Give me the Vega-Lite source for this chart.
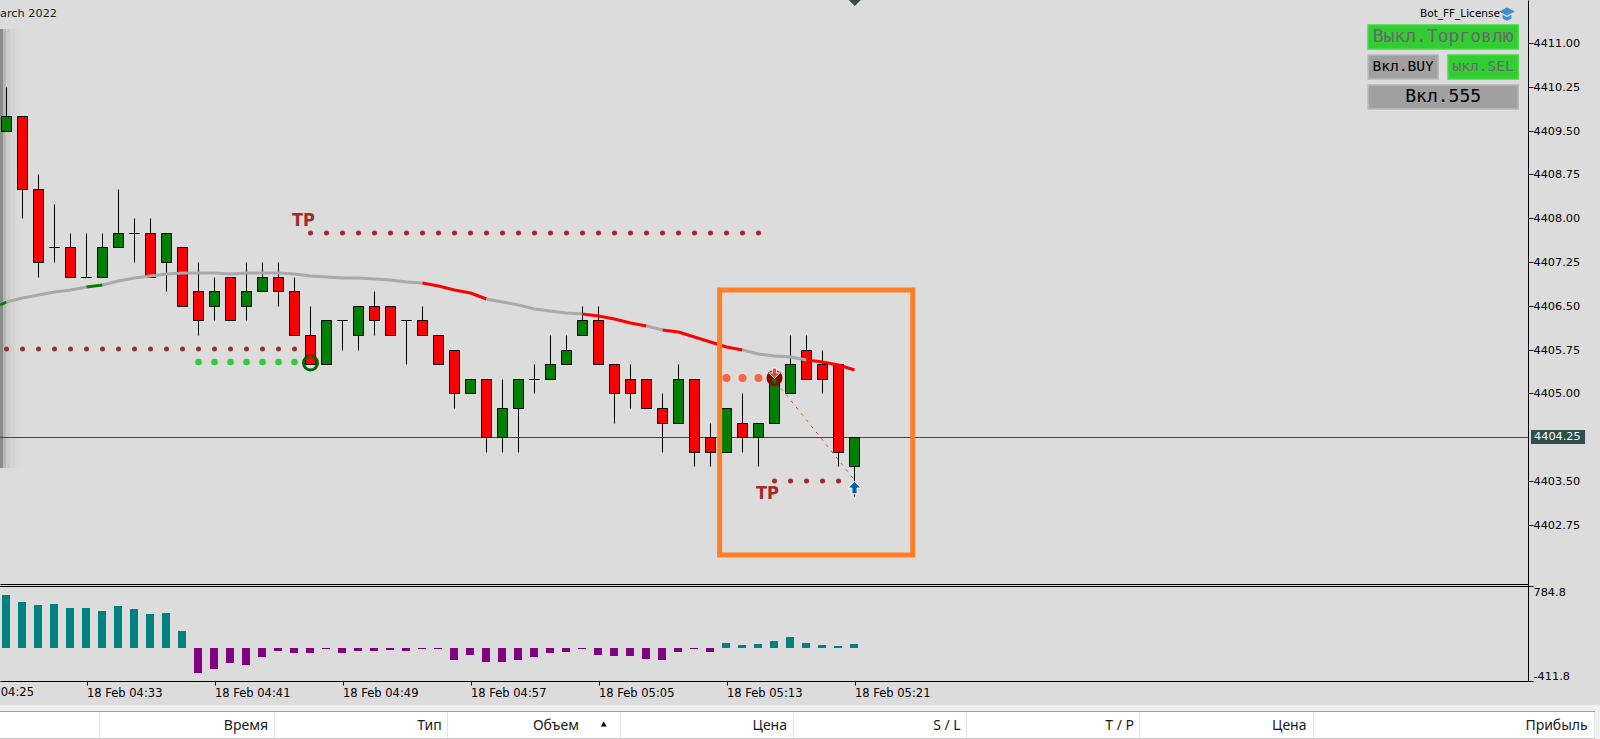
{"$schema":"https://vega.github.io/schema/vega-lite/v6.json","background":"#dcdcdc","padding":0,"autosize":{"type":"pad"},"bounds":"flush","spacing":0,
"resolve":{"scale":{"color":"independent","fill":"independent","stroke":"independent","size":"independent"}},
"config":{"view":{"stroke":null},"axis":{"grid":false,"title":null,"domainColor":"#000000","tickColor":"#000000","labelColor":"#000000","labelFont":"DejaVu Sans","labelFontSize":11.3,"domainWidth":1,"tickWidth":1}},
"datasets":{
"candles":[
{"i":0,"o":4409.5,"h":4410.25,"l":4409.5,"c":4409.75,"dir":"up"},{"i":1,"o":4409.75,"h":4409.75,"l":4408,"c":4408.5,"dir":"down"},{"i":2,"o":4408.5,"h":4408.75,"l":4407,"c":4407.25,"dir":"down"},{"i":3,"o":4407.5,"h":4408.25,"l":4407.25,"c":4407.5,"dir":"down"},{"i":4,"o":4407.5,"h":4407.75,"l":4407,"c":4407,"dir":"down"},{"i":5,"o":4407,"h":4407.75,"l":4407,"c":4407,"dir":"down"},{"i":6,"o":4407,"h":4407.75,"l":4407,"c":4407.5,"dir":"up"},{"i":7,"o":4407.5,"h":4408.5,"l":4407.5,"c":4407.75,"dir":"up"},{"i":8,"o":4407.75,"h":4408,"l":4407.25,"c":4407.75,"dir":"down"},{"i":9,"o":4407.75,"h":4408,"l":4407,"c":4407,"dir":"down"},
{"i":10,"o":4407.25,"h":4407.75,"l":4406.75,"c":4407.75,"dir":"up"},{"i":11,"o":4407.5,"h":4407.5,"l":4406.5,"c":4406.5,"dir":"down"},{"i":12,"o":4406.75,"h":4407.25,"l":4406,"c":4406.25,"dir":"down"},{"i":13,"o":4406.5,"h":4407,"l":4406.25,"c":4406.75,"dir":"up"},{"i":14,"o":4407,"h":4407,"l":4406.25,"c":4406.25,"dir":"down"},{"i":15,"o":4406.5,"h":4407.25,"l":4406.25,"c":4406.75,"dir":"up"},{"i":16,"o":4406.75,"h":4407.25,"l":4406.75,"c":4407,"dir":"up"},{"i":17,"o":4407,"h":4407.25,"l":4406.5,"c":4406.75,"dir":"down"},{"i":18,"o":4406.75,"h":4407,"l":4406,"c":4406,"dir":"down"},{"i":19,"o":4406,"h":4406.5,"l":4405.5,"c":4405.5,"dir":"down"},
{"i":20,"o":4405.5,"h":4406.25,"l":4405.5,"c":4406.25,"dir":"up"},{"i":21,"o":4406.25,"h":4406.25,"l":4405.75,"c":4406.25,"dir":"down"},{"i":22,"o":4406,"h":4406.5,"l":4405.75,"c":4406.5,"dir":"up"},{"i":23,"o":4406.5,"h":4406.75,"l":4406,"c":4406.25,"dir":"down"},{"i":24,"o":4406.5,"h":4406.5,"l":4406,"c":4406,"dir":"down"},{"i":25,"o":4406.25,"h":4406.25,"l":4405.5,"c":4406.25,"dir":"down"},{"i":26,"o":4406.25,"h":4406.5,"l":4406,"c":4406,"dir":"down"},{"i":27,"o":4406,"h":4406,"l":4405.5,"c":4405.5,"dir":"down"},{"i":28,"o":4405.75,"h":4405.75,"l":4404.75,"c":4405,"dir":"down"},{"i":29,"o":4405,"h":4405.25,"l":4405,"c":4405.25,"dir":"up"},
{"i":30,"o":4405.25,"h":4405.25,"l":4404,"c":4404.25,"dir":"down"},{"i":31,"o":4404.25,"h":4405.25,"l":4404,"c":4404.75,"dir":"up"},{"i":32,"o":4404.75,"h":4405.25,"l":4404,"c":4405.25,"dir":"up"},{"i":33,"o":4405.25,"h":4405.5,"l":4405,"c":4405.25,"dir":"down"},{"i":34,"o":4405.25,"h":4406,"l":4405.25,"c":4405.5,"dir":"up"},{"i":35,"o":4405.5,"h":4406,"l":4405.5,"c":4405.75,"dir":"up"},{"i":36,"o":4406,"h":4406.5,"l":4406,"c":4406.25,"dir":"up"},{"i":37,"o":4406.25,"h":4406.5,"l":4405.5,"c":4405.5,"dir":"down"},{"i":38,"o":4405.5,"h":4405.5,"l":4404.5,"c":4405,"dir":"down"},{"i":39,"o":4405.25,"h":4405.5,"l":4404.75,"c":4405,"dir":"down"},
{"i":40,"o":4405.25,"h":4405.25,"l":4404.75,"c":4404.75,"dir":"down"},{"i":41,"o":4404.75,"h":4405,"l":4404,"c":4404.5,"dir":"down"},{"i":42,"o":4404.5,"h":4405.5,"l":4404.5,"c":4405.25,"dir":"up"},{"i":43,"o":4405.25,"h":4405.25,"l":4403.75,"c":4404,"dir":"down"},{"i":44,"o":4404.25,"h":4404.5,"l":4403.75,"c":4404,"dir":"down"},{"i":45,"o":4404,"h":4404.75,"l":4404,"c":4404.75,"dir":"up"},{"i":46,"o":4404.5,"h":4405,"l":4404,"c":4404.25,"dir":"down"},{"i":47,"o":4404.25,"h":4404.5,"l":4403.75,"c":4404.5,"dir":"up"},{"i":48,"o":4404.5,"h":4405.25,"l":4404.5,"c":4405.25,"dir":"up"},{"i":49,"o":4405,"h":4406,"l":4405,"c":4405.5,"dir":"up"},
{"i":50,"o":4405.75,"h":4406,"l":4405.25,"c":4405.25,"dir":"down"},{"i":51,"o":4405.5,"h":4405.75,"l":4405,"c":4405.25,"dir":"down"},{"i":52,"o":4405.5,"h":4405.5,"l":4403.75,"c":4404,"dir":"down"},{"i":53,"o":4403.75,"h":4404.25,"l":4403.25,"c":4404.25,"dir":"up"}],
"ma":[
{"i":-0.4,"p":4406.52,"s":"a","col":"green"},{"i":0,"p":4406.562,"s":"a","col":"green"},
{"i":0,"p":4406.562,"s":"b","col":"gray"},{"i":1,"p":4406.634,"s":"b","col":"gray"},{"i":2,"p":4406.685,"s":"b","col":"gray"},{"i":3,"p":4406.729,"s":"b","col":"gray"},{"i":4,"p":4406.771,"s":"b","col":"gray"},{"i":5,"p":4406.822,"s":"b","col":"gray"},
{"i":5,"p":4406.822,"s":"c","col":"green"},{"i":6,"p":4406.856,"s":"c","col":"green"},
{"i":6,"p":4406.856,"s":"d","col":"gray"},{"i":7,"p":4406.918,"s":"d","col":"gray"},{"i":8,"p":4406.976,"s":"d","col":"gray"},{"i":9,"p":4407.01,"s":"d","col":"gray"},{"i":10,"p":4407.045,"s":"d","col":"gray"},{"i":11,"p":4407.062,"s":"d","col":"gray"},{"i":12,"p":4407.062,"s":"d","col":"gray"},{"i":13,"p":4407.062,"s":"d","col":"gray"},{"i":14,"p":4407.05,"s":"d","col":"gray"},{"i":15,"p":4407.062,"s":"d","col":"gray"},{"i":16,"p":4407.062,"s":"d","col":"gray"},{"i":17,"p":4407.062,"s":"d","col":"gray"},{"i":18,"p":4407.045,"s":"d","col":"gray"},{"i":19,"p":4407.01,"s":"d","col":"gray"},{"i":20,"p":4406.993,"s":"d","col":"gray"},{"i":21,"p":4406.969,"s":"d","col":"gray"},{"i":22,"p":4406.969,"s":"d","col":"gray"},{"i":23,"p":4406.959,"s":"d","col":"gray"},{"i":24,"p":4406.935,"s":"d","col":"gray"},{"i":25,"p":4406.901,"s":"d","col":"gray"},{"i":26,"p":4406.884,"s":"d","col":"gray"},
{"i":26,"p":4406.884,"s":"e","col":"red"},{"i":27,"p":4406.832,"s":"e","col":"red"},{"i":28,"p":4406.764,"s":"e","col":"red"},{"i":29,"p":4406.724,"s":"e","col":"red"},{"i":30,"p":4406.622,"s":"e","col":"red"},
{"i":30,"p":4406.622,"s":"f","col":"gray"},{"i":31,"p":4406.558,"s":"f","col":"gray"},{"i":32,"p":4406.514,"s":"f","col":"gray"},{"i":33,"p":4406.45,"s":"f","col":"gray"},{"i":34,"p":4406.411,"s":"f","col":"gray"},{"i":35,"p":4406.382,"s":"f","col":"gray"},{"i":36,"p":4406.365,"s":"f","col":"gray"},
{"i":36,"p":4406.365,"s":"g","col":"red"},{"i":37,"p":4406.325,"s":"g","col":"red"},{"i":38,"p":4406.267,"s":"g","col":"red"},{"i":39,"p":4406.205,"s":"g","col":"red"},{"i":40,"p":4406.147,"s":"g","col":"red"},
{"i":40,"p":4406.147,"s":"h","col":"gray"},{"i":41,"p":4406.079,"s":"h","col":"gray"},
{"i":41,"p":4406.079,"s":"j","col":"red"},{"i":42,"p":4406.045,"s":"j","col":"red"},{"i":43,"p":4405.966,"s":"j","col":"red"},{"i":44,"p":4405.873,"s":"j","col":"red"},{"i":45,"p":4405.795,"s":"j","col":"red"},{"i":46,"p":4405.748,"s":"j","col":"red"},
{"i":46,"p":4405.748,"s":"k","col":"gray"},{"i":47,"p":4405.68,"s":"k","col":"gray"},{"i":48,"p":4405.646,"s":"k","col":"gray"},{"i":49,"p":4405.623,"s":"k","col":"gray"},{"i":50,"p":4405.572,"s":"k","col":"gray"},
{"i":50,"p":4405.572,"s":"m","col":"red"},{"i":51,"p":4405.543,"s":"m","col":"red"},{"i":52,"p":4405.486,"s":"m","col":"red"},{"i":53,"p":4405.401,"s":"m","col":"red"}],
"dots":[
{"i":19,"p":4407.75,"k":"tp"},{"i":20,"p":4407.75,"k":"tp"},{"i":21,"p":4407.75,"k":"tp"},{"i":22,"p":4407.75,"k":"tp"},{"i":23,"p":4407.75,"k":"tp"},{"i":24,"p":4407.75,"k":"tp"},{"i":25,"p":4407.75,"k":"tp"},{"i":26,"p":4407.75,"k":"tp"},{"i":27,"p":4407.75,"k":"tp"},{"i":28,"p":4407.75,"k":"tp"},{"i":29,"p":4407.75,"k":"tp"},{"i":30,"p":4407.75,"k":"tp"},{"i":31,"p":4407.75,"k":"tp"},{"i":32,"p":4407.75,"k":"tp"},{"i":33,"p":4407.75,"k":"tp"},{"i":34,"p":4407.75,"k":"tp"},{"i":35,"p":4407.75,"k":"tp"},{"i":36,"p":4407.75,"k":"tp"},{"i":37,"p":4407.75,"k":"tp"},{"i":38,"p":4407.75,"k":"tp"},{"i":39,"p":4407.75,"k":"tp"},{"i":40,"p":4407.75,"k":"tp"},{"i":41,"p":4407.75,"k":"tp"},{"i":42,"p":4407.75,"k":"tp"},{"i":43,"p":4407.75,"k":"tp"},{"i":44,"p":4407.75,"k":"tp"},{"i":45,"p":4407.75,"k":"tp"},{"i":46,"p":4407.75,"k":"tp"},{"i":47,"p":4407.75,"k":"tp"},
{"i":0,"p":4405.76,"k":"tp"},{"i":1,"p":4405.76,"k":"tp"},{"i":2,"p":4405.76,"k":"tp"},{"i":3,"p":4405.76,"k":"tp"},{"i":4,"p":4405.76,"k":"tp"},{"i":5,"p":4405.76,"k":"tp"},{"i":6,"p":4405.76,"k":"tp"},{"i":7,"p":4405.76,"k":"tp"},{"i":8,"p":4405.76,"k":"tp"},{"i":9,"p":4405.76,"k":"tp"},{"i":10,"p":4405.76,"k":"tp"},{"i":11,"p":4405.76,"k":"tp"},{"i":12,"p":4405.76,"k":"tp"},{"i":13,"p":4405.76,"k":"tp"},{"i":14,"p":4405.76,"k":"tp"},{"i":15,"p":4405.76,"k":"tp"},{"i":16,"p":4405.76,"k":"tp"},{"i":17,"p":4405.76,"k":"tp"},{"i":18,"p":4405.76,"k":"tp"},
{"i":48,"p":4403.5,"k":"tp"},{"i":49,"p":4403.5,"k":"tp"},{"i":50,"p":4403.5,"k":"tp"},{"i":51,"p":4403.5,"k":"tp"},{"i":52,"p":4403.5,"k":"tp"},
{"i":12,"p":4405.53,"k":"buy"},{"i":13,"p":4405.53,"k":"buy"},{"i":14,"p":4405.53,"k":"buy"},{"i":15,"p":4405.53,"k":"buy"},{"i":16,"p":4405.53,"k":"buy"},{"i":17,"p":4405.53,"k":"buy"},{"i":18,"p":4405.53,"k":"buy"},
{"i":45,"p":4405.27,"k":"sell"},{"i":46,"p":4405.27,"k":"sell"},{"i":47,"p":4405.27,"k":"sell"}],
"osc":[
{"i":0,"v":665.6,"d":"pos"},{"i":1,"v":578,"d":"pos"},{"i":2,"v":540,"d":"pos"},{"i":3,"v":552.6,"d":"pos"},{"i":4,"v":502,"d":"pos"},{"i":5,"v":502,"d":"pos"},{"i":6,"v":465,"d":"pos"},{"i":7,"v":527,"d":"pos"},{"i":8,"v":490,"d":"pos"},{"i":9,"v":427,"d":"pos"},{"i":10,"v":440,"d":"pos"},{"i":11,"v":213.5,"d":"pos"},
{"i":12,"v":-314,"d":"neg"},{"i":13,"v":-264,"d":"neg"},{"i":14,"v":-188,"d":"neg"},{"i":15,"v":-213.5,"d":"neg"},{"i":16,"v":-113,"d":"neg"},{"i":17,"v":-38,"d":"neg"},{"i":18,"v":-63,"d":"neg"},{"i":19,"v":-63,"d":"neg"},{"i":20,"v":-12,"d":"neg"},{"i":21,"v":-63,"d":"neg"},{"i":22,"v":-38,"d":"neg"},{"i":23,"v":-38,"d":"neg"},{"i":24,"v":-25,"d":"neg"},{"i":25,"v":-38,"d":"neg"},{"i":26,"v":-12,"d":"neg"},{"i":27,"v":-8,"d":"neg"},{"i":28,"v":-151,"d":"neg"},{"i":29,"v":-88,"d":"neg"},{"i":30,"v":-176,"d":"neg"},{"i":31,"v":-176,"d":"neg"},{"i":32,"v":-151,"d":"neg"},{"i":33,"v":-113,"d":"neg"},{"i":34,"v":-63,"d":"neg"},{"i":35,"v":-50,"d":"neg"},{"i":36,"v":-8,"d":"neg"},{"i":37,"v":-88,"d":"neg"},{"i":38,"v":-100,"d":"neg"},{"i":39,"v":-100,"d":"neg"},{"i":40,"v":-138,"d":"neg"},{"i":41,"v":-151,"d":"neg"},{"i":42,"v":-50,"d":"neg"},{"i":43,"v":-8,"d":"neg"},{"i":44,"v":-50,"d":"neg"},
{"i":45,"v":63,"d":"pos"},{"i":46,"v":38,"d":"pos"},{"i":47,"v":50,"d":"pos"},{"i":48,"v":88,"d":"pos"},{"i":49,"v":138,"d":"pos"},{"i":50,"v":63,"d":"pos"},{"i":51,"v":38,"d":"pos"},{"i":52,"v":25,"d":"pos"},{"i":53,"v":50,"d":"pos"}]
},
"vconcat":[
{"width":1528,"height":584,"resolve":{"scale":{"color":"independent","fill":"independent","stroke":"independent","size":"independent"}},"layer":[
{"data":{"values":[{"a":-0.40625,"b":-0.219,"t":4411.245,"u":4403.73,"k":"s1"},{"a":-0.219,"b":-0.031,"t":4411.245,"u":4403.73,"k":"s2"},{"a":-0.031,"b":0.219,"t":4411.245,"u":4403.73,"k":"s3"},{"a":0.219,"b":0.531,"t":4411.245,"u":4403.73,"k":"s4"},{"a":0.531,"b":0.844,"t":4411.245,"u":4403.73,"k":"s5"}]},
"mark":{"type":"rect"},
"encoding":{"x":{"field":"a","type":"quantitative","scale":{"domain":[-0.40625,95.09375],"nice":false,"zero":false,"padding":0},"axis":{"labels":false,"ticks":false,"domain":true,"title":null}},"x2":{"field":"b"},
"y":{"field":"t","type":"quantitative","scale":{"domain":[4401.7364,4411.7364],"nice":false,"zero":false,"round":true},"axis":{"orient":"right","title":null,"values":[4411,4410.25,4409.5,4408.75,4408,4407.25,4406.5,4405.75,4405,4403.5,4402.75],"format":".2f","tickSize":5,"labelPadding":0,"labelOverlap":false,"labelFlush":false}},"y2":{"field":"u"},
"color":{"field":"k","type":"nominal","scale":{"domain":["s1","s2","s3","s4","s5"],"range":["#8a8a8a","#b8b8b8","#cacaca","#d3d3d3","#d9d9d9"]},"legend":null}}},
{"data":{"values":[{"p":4404.25}]},"mark":{"type":"rule","color":"#2f4f4f","strokeWidth":1,"yOffset":0.5,"clip":true},"encoding":{"y":{"field":"p","type":"quantitative"}}},
{"data":{"name":"candles"},"mark":{"type":"rule","color":"#000000","strokeWidth":1,"yOffset":0.5,"y2Offset":0.5},"encoding":{"x":{"field":"i","type":"quantitative"},"y":{"field":"h","type":"quantitative"},"y2":{"field":"l"}}},
{"data":{"name":"candles"},"mark":{"type":"bar","size":10,"stroke":"#000000","strokeWidth":1,"yOffset":0.5,"y2Offset":0.5},"encoding":{"x":{"field":"i","type":"quantitative"},"y":{"field":"o","type":"quantitative"},"y2":{"field":"c"},"color":{"field":"dir","type":"nominal","scale":{"domain":["up","down"],"range":["#008000","#ff0000"]},"legend":null}}},
{"data":{"name":"dots"},"mark":{"type":"point","filled":true,"opacity":1,"strokeWidth":0},"encoding":{"x":{"field":"i","type":"quantitative"},"y":{"field":"p","type":"quantitative"},"fill":{"field":"k","type":"nominal","scale":{"domain":["tp","buy","sell"],"range":["#a52a2a","#32cd32","#ff6347"]},"legend":null},"size":{"field":"k","type":"ordinal","scale":{"domain":["tp","buy","sell"],"range":[25,64,64]},"legend":null}}},
{"data":{"name":"ma"},"mark":{"type":"line","strokeWidth":3,"strokeCap":"butt","strokeJoin":"bevel","clip":true},"encoding":{"x":{"field":"i","type":"quantitative"},"y":{"field":"p","type":"quantitative"},"detail":{"field":"s"},"order":{"field":"i"},"color":{"field":"col","type":"nominal","scale":{"domain":["gray","red","green"],"range":["#a9a9a9","#ff0000","#008000"]},"legend":null}}},
{"data":{"values":[{"i":48.1,"p":4405.2},{"i":53,"p":4403.52}]},"mark":{"type":"line","color":"#e8492a","strokeWidth":1,"strokeDash":[3,5]},"encoding":{"x":{"field":"i","type":"quantitative"},"y":{"field":"p","type":"quantitative"}}},
{"data":{"values":[{"i":19,"p":4405.52}]},"mark":{"type":"point","shape":"circle","size":196,"stroke":"#006400","strokeWidth":3,"opacity":1,"filled":false},"encoding":{"x":{"field":"i","type":"quantitative"},"y":{"field":"p","type":"quantitative"}}},
{"data":{"values":[{"i":19,"p":4405.58}]},"mark":{"type":"point","shape":"M0,-1L1,0L0.4,0L0.4,0.9L-0.4,0.9L-0.4,0L-1,0Z","size":80,"filled":true,"fill":"#ff0000","opacity":1,"strokeWidth":0},"encoding":{"x":{"field":"i","type":"quantitative"},"y":{"field":"p","type":"quantitative"}}},
{"data":{"values":[{"i":48,"p":4405.258}]},"mark":{"type":"point","shape":"circle","size":256,"filled":true,"fill":"#8b0000","opacity":1,"strokeWidth":0},"encoding":{"x":{"field":"i","type":"quantitative"},"y":{"field":"p","type":"quantitative"}}},
{"data":{"values":[{"i":48,"p":4405.2}]},"mark":{"type":"point","shape":"triangle-down","size":40,"filled":true,"fill":"#008000","opacity":1,"strokeWidth":0},"encoding":{"x":{"field":"i","type":"quantitative"},"y":{"field":"p","type":"quantitative"}}},
{"data":{"values":[{"i":48,"p":4405.344}]},"mark":{"type":"point","shape":"M0,1L1,0L0.4,0L0.4,-0.9L-0.4,-0.9L-0.4,0L-1,0Z","size":120,"filled":true,"fill":"#e8482a","stroke":"#ffffff","strokeWidth":1,"opacity":1},"encoding":{"x":{"field":"i","type":"quantitative"},"y":{"field":"p","type":"quantitative"}}},
{"data":{"values":[{"i":53,"p":4403.385}]},"mark":{"type":"point","shape":"M0,-1L1,0L0.4,0L0.4,0.9L-0.4,0.9L-0.4,0L-1,0Z","size":170,"filled":true,"fill":"#0a5fa8","stroke":"#ffffff","strokeWidth":1,"opacity":1},"encoding":{"x":{"field":"i","type":"quantitative"},"y":{"field":"p","type":"quantitative"}}},
{"data":{"values":[{"i":18.56,"p":4407.945,"t":"TP"},{"i":47.56,"p":4403.283,"t":"TP"}]},"mark":{"type":"text","font":"DejaVu Sans Condensed, Liberation Sans","fontWeight":"bold","fontSize":18,"color":"#a52a2a","align":"center","baseline":"middle"},"encoding":{"x":{"field":"i","type":"quantitative"},"y":{"field":"p","type":"quantitative"},"text":{"field":"t"}}},
{"data":{"values":[{"a":44.57,"b":56.64,"t":4406.776,"u":4402.238}]},"mark":{"type":"rect","fill":null,"fillOpacity":0,"stroke":"#ff7f27","strokeWidth":5},"encoding":{"x":{"field":"a","type":"quantitative"},"x2":{"field":"b"},"y":{"field":"t","type":"quantitative"},"y2":{"field":"u"}}},
{"data":{"values":[{"i":53.02,"p":4411.7364}]},"mark":{"type":"point","shape":"M-1,0L1,0L0,1Z","size":144,"filled":true,"fill":"#2f4f4f","opacity":1,"strokeWidth":0},"encoding":{"x":{"field":"i","type":"quantitative"},"y":{"field":"p","type":"quantitative"}}},
{"data":{"values":[{"a":95.28,"b":98.66,"t":4404.373,"u":4404.134}]},"mark":{"type":"rect","fill":"#2f4f4f"},"encoding":{"x":{"field":"a","type":"quantitative"},"x2":{"field":"b"},"y":{"field":"t","type":"quantitative"},"y2":{"field":"u"}}},
{"data":{"values":[{"i":95.47,"p":4404.25,"t":"4404.25"}]},"mark":{"type":"text","font":"DejaVu Sans","fontSize":11.3,"color":"#ffffff","align":"left","baseline":"middle"},"encoding":{"x":{"field":"i","type":"quantitative"},"y":{"field":"p","type":"quantitative"},"text":{"field":"t"}}},
{"data":{"values":[{"a":85.1,"b":94.48,"t":4411.313,"u":4410.902,"k":"on"},{"a":85.1,"b":89.48,"t":4410.8,"u":4410.389,"k":"off"},{"a":90.1,"b":94.48,"t":4410.8,"u":4410.389,"k":"on"},{"a":85.1,"b":94.48,"t":4410.286,"u":4409.875,"k":"off"}]},"mark":{"type":"rect","strokeWidth":1.5},"encoding":{"x":{"field":"a","type":"quantitative"},"x2":{"field":"b"},"y":{"field":"t","type":"quantitative"},"y2":{"field":"u"},"fill":{"field":"k","type":"nominal","scale":{"domain":["on","off"],"range":["#32cd32","#a0a0a0"]},"legend":null},"stroke":{"field":"k","type":"nominal","scale":{"domain":["on","off"],"range":["#3fdc3f","#b8b8b8"]},"legend":null}}},
{"data":{"values":[{"i":89.79,"p":4411.108,"t":"Выкл.Торговлю"}]},"mark":{"type":"text","font":"DejaVu Sans Mono","fontSize":18,"color":"#696969","align":"center","baseline":"middle"},"encoding":{"x":{"field":"i","type":"quantitative"},"y":{"field":"p","type":"quantitative"},"text":{"field":"t"}}},
{"data":{"values":[{"i":92.29,"p":4410.594,"t":"ыкл.SEL"}]},"mark":{"type":"text","font":"DejaVu Sans Mono","fontSize":14.6,"color":"#696969","align":"center","baseline":"middle"},"encoding":{"x":{"field":"i","type":"quantitative"},"y":{"field":"p","type":"quantitative"},"text":{"field":"t"}}},
{"data":{"values":[{"i":87.29,"p":4410.594,"t":"Вкл.BUY"}]},"mark":{"type":"text","font":"DejaVu Sans Mono","fontSize":14.6,"color":"#000000","align":"center","baseline":"middle"},"encoding":{"x":{"field":"i","type":"quantitative"},"y":{"field":"p","type":"quantitative"},"text":{"field":"t"}}},
{"data":{"values":[{"i":89.79,"p":4410.08,"t":"Вкл.555"}]},"mark":{"type":"text","font":"DejaVu Sans Mono","fontSize":18,"color":"#000000","align":"center","baseline":"middle"},"encoding":{"x":{"field":"i","type":"quantitative"},"y":{"field":"p","type":"quantitative"},"text":{"field":"t"}}},
{"data":{"values":[{"i":93.34,"p":4411.497,"t":"Bot_FF_License"}]},"mark":{"type":"text","font":"DejaVu Sans","fontSize":10.5,"color":"#000000","align":"right","baseline":"middle"},"encoding":{"x":{"field":"i","type":"quantitative"},"y":{"field":"p","type":"quantitative"},"text":{"field":"t"}}},
{"data":{"values":[{"i":93.78,"p":4411.497}]},"mark":{"type":"point","shape":"M-1,-0.3L0,-0.8L1,-0.3L0,0.2ZM-0.55,0.1L0,0.4L0.55,0.1L0.55,0.55L0,0.85L-0.55,0.55Z","size":256,"filled":true,"fill":"#3a8ed0","opacity":1,"strokeWidth":0},"encoding":{"x":{"field":"i","type":"quantitative"},"y":{"field":"p","type":"quantitative"}}},
{"data":{"values":[{"i":3.16,"p":4411.505,"t":"March 2022"}]},"mark":{"type":"text","font":"DejaVu Sans","fontSize":11.3,"color":"#1a1a1a","align":"right","baseline":"middle","clip":true},"encoding":{"x":{"field":"i","type":"quantitative"},"y":{"field":"p","type":"quantitative"},"text":{"field":"t"}}}
]},
{"width":1528,"height":97,"resolve":{"scale":{"color":"independent"}},"layer":[
{"data":{"name":"osc"},"mark":{"type":"bar","size":8,"xOffset":-0.5},"encoding":{"x":{"field":"i","type":"quantitative","scale":{"domain":[-0.40625,95.09375],"nice":false,"zero":false,"padding":0},"axis":{"title":null,"values":[5,13,21,29,37,45,53],"labelExpr":"{'5':'18 Feb 04:33','13':'18 Feb 04:41','21':'18 Feb 04:49','29':'18 Feb 04:57','37':'18 Feb 05:05','45':'18 Feb 05:13','53':'18 Feb 05:21'}[datum.value]","tickSize":4,"labelPadding":2,"labelAlign":"left","labelBaseline":"top","labelOverlap":false,"labelFlush":false,"labelFontSize":11.5}},
"y":{"field":"v","type":"quantitative","scale":{"domain":[-411.8,806],"nice":false,"zero":false,"round":true},"axis":{"orient":"right","title":null,"values":[784.8,-411.8],"labelExpr":"datum.value < 0 ? '-411.8' : '784.8'","tickSize":5,"labelPadding":0,"labelBaseline":{"expr":"datum.value < 0 ? 'bottom' : 'top'"},"labelOverlap":false,"labelFlush":false}},"y2":{"datum":0},
"color":{"field":"d","type":"nominal","scale":{"domain":["pos","neg"],"range":["#008080","#800080"]},"legend":null}}},
{"data":{"values":[{"v":784.8}]},"mark":{"type":"rule","color":"#000000","strokeWidth":1,"yOffset":0.5,"clip":true},"encoding":{"y":{"field":"v","type":"quantitative"}}}
]},
{"width":1600,"height":58,"resolve":{"scale":{"color":"independent"}},"layer":[
{"data":{"values":[{"a":0,"b":1600,"t":24,"u":58,"k":"strip"},{"a":0,"b":1595,"t":30,"u":57,"k":"head"}]},"mark":{"type":"rect"},"encoding":{"x":{"field":"a","type":"quantitative","scale":{"domain":[0,1600],"nice":false,"zero":false},"axis":null},"x2":{"field":"b"},"y":{"field":"t","type":"quantitative","scale":{"domain":[0,58],"reverse":true,"nice":false,"zero":false},"axis":null},"y2":{"field":"u"},"color":{"field":"k","type":"nominal","scale":{"domain":["strip","head"],"range":["#f0f0f0","#ffffff"]},"legend":null}}},
{"data":{"values":[{"a":0,"b":1595,"t":30.5,"k":"top"},{"a":0,"b":1595,"t":57.5,"k":"bot"}]},"mark":{"type":"rule","strokeWidth":1,"clip":true},"encoding":{"x":{"field":"a","type":"quantitative"},"x2":{"field":"b"},"y":{"field":"t","type":"quantitative"},"color":{"field":"k","type":"nominal","scale":{"domain":["top","bot"],"range":["#a0a0a0","#c8c8c8"]},"legend":null}}},
{"data":{"values":[{"a":99.5},{"a":274.5},{"a":447.5},{"a":620.5},{"a":793.5},{"a":966.5},{"a":1139.5},{"a":1313.5},{"a":1594.5}]},"mark":{"type":"rule","color":"#e4e4e4","strokeWidth":1},"encoding":{"x":{"field":"a","type":"quantitative"},"y":{"datum":31},"y2":{"datum":57}}},
{"data":{"values":[{"a":268,"t":"Время"},{"a":441.7,"t":"Тип"},{"a":579,"t":"Объем"},{"a":787,"t":"Цена"},{"a":960.7,"t":"S / L"},{"a":1134,"t":"T / P"},{"a":1306.5,"t":"Цена"},{"a":1587.7,"t":"Прибыль"}]},"mark":{"type":"text","font":"Noto Sans","fontSize":14,"color":"#1a1a1a","align":"right","baseline":"middle"},"encoding":{"x":{"field":"a","type":"quantitative"},"y":{"datum":45},"text":{"field":"t"}}},
{"data":{"values":[{"a":603.7}]},"mark":{"type":"point","shape":"triangle-up","size":35,"filled":true,"fill":"#000000","opacity":1,"strokeWidth":0},"encoding":{"x":{"field":"a","type":"quantitative"},"y":{"datum":43}}},
{"data":{"values":[{"a":-41.5,"t":"18 Feb 04:25"}]},"mark":{"type":"text","font":"DejaVu Sans","fontSize":11.5,"color":"#000000","align":"left","baseline":"middle","clip":true},"encoding":{"x":{"field":"a","type":"quantitative"},"y":{"datum":12},"text":{"field":"t"}}}
]}
]}
